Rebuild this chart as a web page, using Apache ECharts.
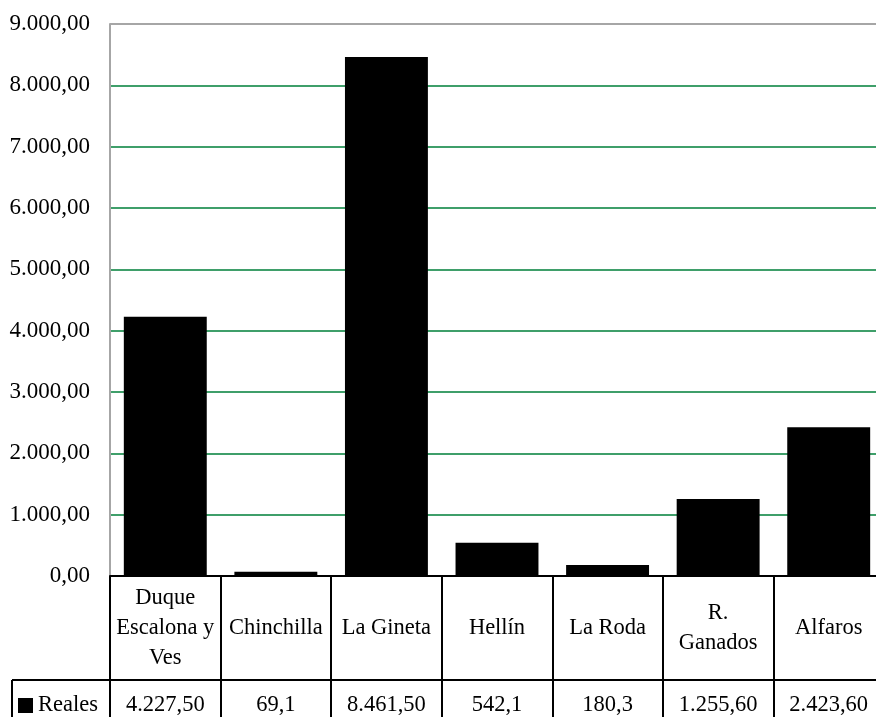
<!DOCTYPE html>
<html>
<head>
<meta charset="utf-8">
<script src="https://cdn.jsdelivr.net/npm/echarts@6/dist/echarts.min.js"></script>
<style>
    html, body { margin: 0; padding: 0; background: #fff; }
    #chart { width: 876px; height: 717px; }
</style>
</head>
<body>
<div id="chart"></div>
<script>
var categories = ['Duque\nEscalona y\nVes', 'Chinchilla', 'La Gineta', 'Hellín', 'La Roda', 'R.\nGanados', 'Alfaros'];
var reales = [4227.5, 69.1, 8461.5, 542.1, 180.3, 1255.6, 2423.6];
var realesText = ['4.227,50', '69,1', '8.461,50', '542,1', '180,3', '1.255,60', '2.423,60'];
var seriesName = 'Reales';

var font = 'Liberation Serif';
var green = '#3f9f6a';

function fmt(v) {
    var s = v.toFixed(2).split('.');
    return s[0].replace(/\B(?=(\d{3})+(?!\d))/g, '.') + ',' + s[1];
}

var chart = echarts.init(document.getElementById('chart'));

var option = {
    animation: false,
    backgroundColor: '#fff',
    textStyle: { fontFamily: font },
    // plot area runs past the right edge, as in the original
    grid: { left: 110, top: 24, width: 774, height: 552, outerBoundsMode: 'none' },
    legend: {
        data: [seriesName],
        left: 18,
        top: 694,
        padding: 0,
        icon: 'rect',
        itemWidth: 15,
        itemHeight: 15,
        itemGap: 6,
        textStyle: { fontFamily: font, fontSize: 22.5, color: '#000' }
    },
    xAxis: [{
        type: 'category',
        data: categories,
        position: 'bottom',
        axisLine: { lineStyle: { color: '#000', width: 2 } },
        axisTick: { show: true, length: 145, lineStyle: { color: '#000', width: 2 } },
        axisLabel: {
            interval: 0,
            margin: 52,
            verticalAlign: 'middle',
            fontFamily: font,
            fontSize: 22.5,
            lineHeight: 30,
            color: '#000'
        }
    }, {
        type: 'category',
        data: realesText,
        position: 'bottom',
        offset: 104,
        axisLine: { lineStyle: { color: '#000', width: 2 } },
        axisTick: { show: false },
        axisLabel: {
            interval: 0,
            margin: 25,
            verticalAlign: 'middle',
            fontFamily: font,
            fontSize: 22.5,
            color: '#000'
        }
    }],
    yAxis: {
        type: 'value',
        min: 0,
        max: 9000,
        interval: 1000,
        axisLine: { show: true, lineStyle: { color: '#a6a6a6', width: 2 } },
        axisTick: { show: false },
        axisLabel: {
            margin: 20,
            fontFamily: font,
            fontSize: 23,
            color: '#000',
            formatter: fmt
        },
        splitLine: {
            lineStyle: {
                width: 2,
                color: ['#000', green, green, green, green, green, green, green, green, '#a6a6a6']
            }
        }
    },
    graphic: [
        { type: 'line', shape: { x1: 12, y1: 680, x2: 110, y2: 680 }, style: { stroke: '#000', lineWidth: 2 } },
        { type: 'line', shape: { x1: 12, y1: 680, x2: 12, y2: 717 }, style: { stroke: '#000', lineWidth: 2 } }
    ],
    series: [{
        name: seriesName,
        type: 'bar',
        data: reales,
        barCategoryGap: '25%',
        itemStyle: { color: '#000' }
    }]
};

chart.setOption(option);
</script>
</body>
</html>
